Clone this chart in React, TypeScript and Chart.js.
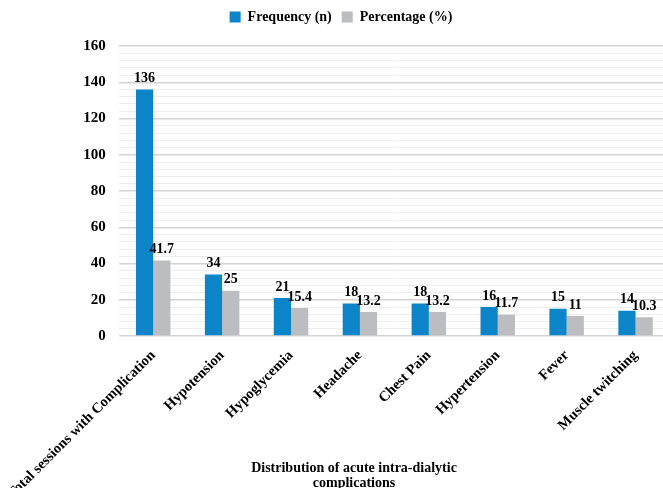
import React, { useEffect, useRef } from "react";
import { Chart, registerables } from "chart.js";

Chart.register(...registerables);

const categories = [
  "Total sessions with Complication",
  "Hypotension",
  "Hypoglycemia",
  "Headache",
  "Chest Pain",
  "Hypertension",
  "Fever",
  "Muscle twitching",
];
const frequency = [136, 34, 21, 18, 18, 16, 15, 14];
const percentage = [41.7, 25, 15.4, 13.2, 13.2, 11.7, 11, 10.3];
const xTitleLines = ["Distribution of acute intra-dialytic", "complications"];

const FONT = "'Liberation Serif', 'Times New Roman', serif";

const valueLabels = {
  id: "valueLabels",
  afterDatasetsDraw(chart: any) {
    const ctx = chart.ctx;
    ctx.save();
    ctx.font = `bold 14px ${FONT}`;
    ctx.fillStyle = "#000";
    ctx.textAlign = "center";
    ctx.textBaseline = "bottom";
    chart.data.datasets.forEach((ds: any, di: number) => {
      const meta = chart.getDatasetMeta(di);
      meta.data.forEach((bar: any, i: number) => {
        ctx.fillText(String(ds.data[i]), bar.x, bar.y - 4);
      });
    });
    ctx.restore();
  },
};

const xTitle = {
  id: "xTitle",
  afterDraw(chart: any) {
    const ctx = chart.ctx;
    ctx.save();
    ctx.font = `bold 14px ${FONT}`;
    ctx.fillStyle = "#000";
    ctx.textAlign = "center";
    ctx.textBaseline = "middle";
    ctx.fillText(xTitleLines[0], 354, 468);
    ctx.fillText(xTitleLines[1], 354, 483);
    ctx.restore();
  },
};

const legendGap = {
  id: "legendGap",
  beforeInit(chart: any) {
    const legend = chart.legend;
    if (!legend) return;
    const orig = legend.fit;
    legend.fit = function () {
      orig.call(this);
      this.height += 12;
    };
  },
};

export default function App() {
  const ref = useRef<HTMLCanvasElement>(null);
  useEffect(() => {
    document.body.style.margin = "0";
    document.body.style.overflow = "hidden";
    const chart = new Chart(ref.current!, {
      type: "bar",
      data: {
        labels: categories,
        datasets: [
          {
            label: "Frequency (n)",
            data: frequency,
            backgroundColor: "#0b84c8",
            categoryPercentage: 0.5,
            barPercentage: 1,
          },
          {
            label: "Percentage (%)",
            data: percentage,
            backgroundColor: "#bcbdc0",
            categoryPercentage: 0.5,
            barPercentage: 1,
          },
        ],
      },
      options: {
        animation: false,
        responsive: false,
        maintainAspectRatio: false,
        layout: { padding: { top: 0, right: 0, left: 12, bottom: 0 } },
        plugins: {
          tooltip: { enabled: false },
          legend: {
            position: "top",
            labels: {
              font: { family: FONT, size: 14, weight: "bold" },
              color: "#000",
              boxWidth: 11,
              boxHeight: 11,
              padding: 10,
            },
          },
        },
        scales: {
          x: {
            grid: { display: false },
            border: { display: false },
            ticks: {
              autoSkip: false,
              minRotation: 45,
              maxRotation: 45,
              color: "#000",
              font: { family: FONT, size: 14.5, weight: "bold" },
            },
            afterFit(s: any) {
              s.height = 152;
            },
          },
          y: {
            min: 0,
            max: 160,
            border: { display: false },
            grid: {
              drawTicks: false,
              color: (c: any) =>
                c.tick && c.tick.value % 20 === 0 ? "#d4d4d4" : "#eeeeee",
              lineWidth: (c: any) => (c.tick && c.tick.value % 20 === 0 ? 1.5 : 1),
            },
            ticks: {
              stepSize: 4,
              autoSkip: false,
              padding: 13,
              color: "#000",
              font: { family: FONT, size: 15, weight: "bold" },
              callback: (v: any) => (Number(v) % 20 === 0 ? String(v) : ""),
            },
            afterFit(s: any) {
              s.width = 105;
            },
          },
        },
      },
      plugins: [legendGap, valueLabels, xTitle],
    });
    return () => chart.destroy();
  }, []);
  return (
    <div style={{ width: 663, height: 488, overflow: "hidden" }}>
      <canvas ref={ref} width={670} height={488} style={{ width: 670, height: 488, display: "block" }} />
    </div>
  );
}
